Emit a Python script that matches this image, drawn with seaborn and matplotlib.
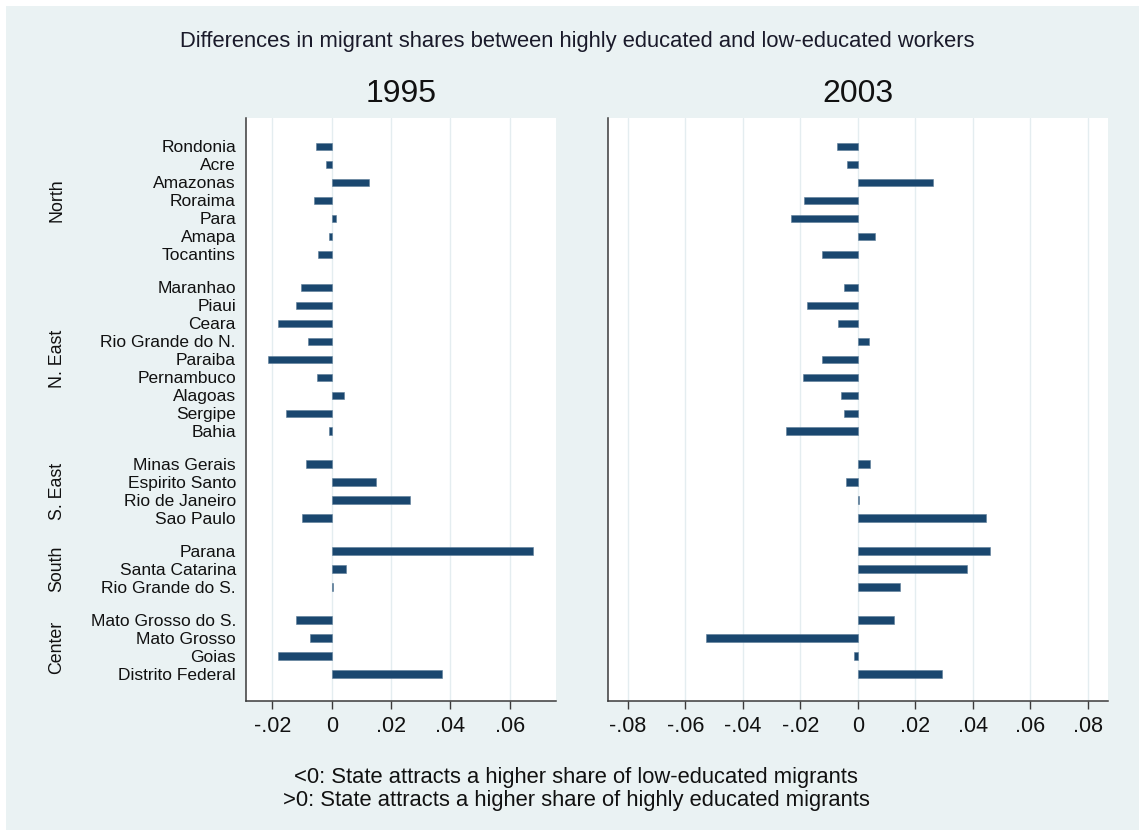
import numpy as np
import pandas as pd
import matplotlib
matplotlib.use("Agg")
import matplotlib.pyplot as plt
import matplotlib.transforms as mtransforms
import seaborn as sns
from matplotlib.patches import Rectangle

sns.set_theme(style="white")
plt.rcParams['font.family'] = ['Liberation Sans', 'DejaVu Sans']

# ---- data ----
regions = ["North", "N. East", "S. East", "South", "Center"]
states = [
    ["Rondonia", "Acre", "Amazonas", "Roraima", "Para", "Amapa", "Tocantins"],
    ["Maranhao", "Piaui", "Ceara", "Rio Grande do N.", "Paraiba", "Pernambuco",
     "Alagoas", "Sergipe", "Bahia"],
    ["Minas Gerais", "Espirito Santo", "Rio de Janeiro", "Sao Paulo"],
    ["Parana", "Santa Catarina", "Rio Grande do S."],
    ["Mato Grosso do S.", "Mato Grosso", "Goias", "Distrito Federal"],
]
diff_1995 = [
    -0.0054, -0.0018, 0.0127, -0.0060, 0.0013, -0.0009, -0.0045,
    -0.0103, -0.0121, -0.0180, -0.0081, -0.0216, -0.0050, 0.0040, -0.0153, -0.0009,
    -0.0086, 0.0148, 0.0265, -0.0099,
    0.0678, 0.0049, 0.0004,
    -0.0121, -0.0072, -0.0180, 0.0371,
]
diff_2003 = [
    -0.0074, -0.0037, 0.0260, -0.0186, -0.0232, 0.0060, -0.0125,
    -0.0047, -0.0176, -0.0070, 0.0037, -0.0125, -0.0190, -0.0060, -0.0047, -0.0250,
    0.0042, -0.0042, 0.0005, 0.0445,
    0.0459, 0.0380, 0.0148,
    0.0125, -0.0529, -0.0014, 0.0292,
]
ticks_1995 = [-0.02, 0, 0.02, 0.04, 0.06]
ticklabels_1995 = ["-.02", "0", ".02", ".04", ".06"]
ticks_2003 = [-0.08, -0.06, -0.04, -0.02, 0, 0.02, 0.04, 0.06, 0.08]
ticklabels_2003 = ["-.08", "-.06", "-.04", "-.02", "0", ".02", ".04", ".06", ".08"]
title = "Differences in migrant shares between highly educated and low-educated workers"
note = ("<0: State attracts a higher share of low-educated migrants\n"
        ">0: State attracts a higher share of highly educated migrants")

# ---- layout of rows (with gaps between regions) ----
GAP = 0.83
rows = []
k = 0
for g, (reg, sts) in enumerate(zip(regions, states)):
    for s in sts:
        rows.append((reg, s, k + g * GAP))
        k += 1
df = pd.DataFrame(rows, columns=["region", "state", "pos"])
df["y1995"] = diff_1995
df["y2003"] = diff_2003

BG = "#eaf2f3"
BAR = "#1a476f"
GRID = "#e4edf0"
AX = "#3a3a3a"
TXT = "#111111"

W, H = 1139, 830
fig = plt.figure(figsize=(W / 100, H / 100), dpi=100, facecolor="white")
fig.patches.append(Rectangle((6 / W, 0), 1 - 6 / W, 1 - 6 / H, transform=fig.transFigure,
                             facecolor=BG, edgecolor="none", zorder=-10))

def fx(px):
    return px / W

def fy(py):
    return 1 - py / H

top, bot = 118.3, 700.7
axL = fig.add_axes([fx(245.7), fy(bot), fx(555.7 - 245.7), (bot - top) / H])
axR = fig.add_axes([fx(608.3), fy(bot), fx(1108 - 608.3), (bot - top) / H])

ymin = df["pos"].min() - 1.56
ymax = df["pos"].max() + 1.48

for ax, col, ticks, labels, xlim, yr in [
    (axL, "y1995", ticks_1995, ticklabels_1995, (-0.029, 0.0755), "1995"),
    (axR, "y2003", ticks_2003, ticklabels_2003, (-0.0868, 0.087), "2003"),
]:
    ax.set_facecolor("white")
    for t in ticks:
        ax.axvline(t, color=GRID, lw=1.0, zorder=0)
    sns.barplot(data=df, x=col, y="pos", orient="h", native_scale=True,
                color=BAR, saturation=1, width=0.42, errorbar=None,
                edgecolor="#5d7d99", linewidth=0.4, ax=ax, zorder=3)
    ax.set_xlim(*xlim)
    ax.set_ylim(ymax, ymin)
    ax.set_xticks(ticks)
    ax.set_xticklabels(labels, fontsize=15.5, color=TXT)
    ax.set_xlabel("")
    ax.set_ylabel("")
    ax.tick_params(axis="x", direction="out", length=6, width=1, color=AX, pad=5,
                   bottom=True)
    for s in ["top", "right"]:
        ax.spines[s].set_visible(False)
    for s in ["left", "bottom"]:
        ax.spines[s].set_color(AX)
        ax.spines[s].set_linewidth(1.1)
    ax.set_title(yr, fontsize=23, color=TXT, pad=12)

axL.set_yticks(df["pos"])
axL.set_yticklabels(df["state"], fontsize=12.5, color=TXT)
axL.tick_params(axis="y", length=0, pad=7)
axR.set_yticks([])

# region labels
trans = mtransforms.blended_transform_factory(fig.transFigure, axL.transData)
for reg in regions:
    p = df.loc[df["region"] == reg, "pos"]
    yc = (p.min() + p.max()) / 2
    axL.text(fx(57), yc, reg, transform=trans, rotation=90, ha="center", va="center",
             fontsize=12.8, color=TXT)

fig.text(fx(577), fy(42), title, ha="center", va="center", fontsize=15.8, color="#1a1a2a")
fig.text(fx(576), fy(789), note, ha="center", va="center", fontsize=15.8,
         color=TXT, linespacing=1.1)

fig.savefig("out.png", dpi=100, facecolor=fig.get_facecolor())
